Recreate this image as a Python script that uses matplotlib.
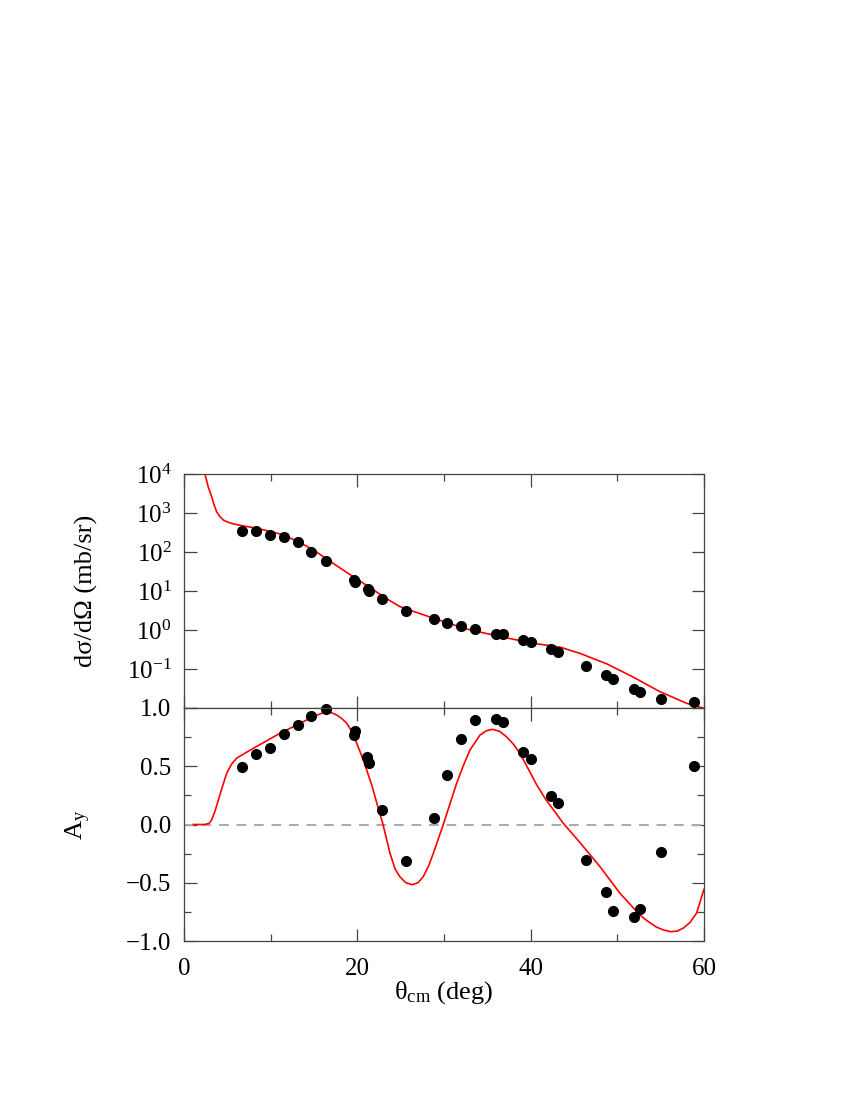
"""Cross section and analysing power vs c.m. angle, data vs calculation."""
import matplotlib
matplotlib.use("Agg")
import matplotlib.pyplot as plt
from matplotlib.ticker import MultipleLocator, NullLocator

plt.rcParams.update({
    "font.family": "Liberation Serif",
    "mathtext.fontset": "custom",
    "mathtext.rm": "Liberation Serif",
    "mathtext.it": "Liberation Serif:italic",
    "font.size": 18,
})

# measured cross section (deg, mb/sr)
theta_xs = [6.7, 8.3, 9.9, 11.5, 13.15, 14.7, 16.35, 19.6, 19.7, 21.2, 21.3, 22.9,
            25.6, 28.8, 30.4, 32.0, 33.6, 36.0, 36.8, 39.15, 40.0, 42.35, 43.2,
            46.35, 48.7, 49.5, 51.9, 52.6, 55.0, 58.9]
xs = [346, 355, 270, 243, 178, 102, 59, 18.6, 17.0, 11.2, 10.0, 6.2,
      3.07, 1.88, 1.48, 1.29, 1.08, 0.805, 0.776, 0.555, 0.492, 0.326, 0.278,
      0.119, 0.070, 0.0565, 0.030, 0.025, 0.017, 0.014]

# measured analysing power
theta_ay = [6.7, 8.3, 9.9, 11.5, 13.15, 14.7, 16.35, 19.6, 19.77, 21.15, 21.35, 22.9,
            25.6, 28.8, 30.4, 32.0, 33.6, 36.0, 36.8, 39.15, 40.0, 42.35, 43.2,
            46.35, 48.7, 49.5, 51.9, 52.6, 55.0, 58.9]
ay = [0.49, 0.605, 0.654, 0.774, 0.854, 0.929, 0.99, 0.77, 0.80, 0.577, 0.528, 0.125,
      -0.313, 0.056, 0.425, 0.734, 0.894, 0.908, 0.883, 0.622, 0.562, 0.242, 0.185,
      -0.307, -0.579, -0.745, -0.797, -0.728, -0.233, 0.505]

# calculation
theta_xs_calc = [2.42, 2.8, 3.19, 3.5, 3.77, 4.1, 4.54, 5.0, 5.69, 7.0, 8.38, 10.0,
                 11.46, 12.8, 14.15, 15.3, 16.46, 18.77, 21.1, 23.4, 24.9, 26.1,
                 28.8, 32.6, 36.5, 40.3, 43.4, 45.7, 48.8, 51.85, 54.9, 58.0, 60.0]
xs_calc = [1.0e4, 4.6e3, 2.63e3, 1.55e3, 1.07e3, 8.3e2, 6.6e2, 5.9e2, 5.25e2, 4.6e2,
           4.07e2, 3.35e2, 2.75e2, 2.0e2, 1.41e2, 1.0e2, 66, 30, 13.8, 6.3, 4.0, 3.2,
           2.0, 1.06, 0.676, 0.457, 0.363, 0.251, 0.135, 0.0617, 0.0263, 0.0132, 0.0098]

theta_ay_calc = [1.08, 2.42, 2.9, 3.19, 3.6, 3.96, 4.45, 4.93, 5.5, 6.08, 8.0, 11.08,
                 14.15, 15.2, 16.08, 17.0, 17.62, 18.2, 18.77, 19.35, 19.92, 20.5,
                 21.08, 21.7, 22.3, 22.93, 23.77, 24.35, 24.9, 25.6, 26.35, 27.0, 27.6,
                 28.2, 28.77, 29.92, 30.7, 31.46, 32.2, 33.0, 34.15, 34.9, 35.6,
                 36.4, 37.2, 38.0, 38.77, 39.7, 40.7, 41.7, 43.77, 45.7, 48.0, 50.3,
                 52.6, 53.6, 54.5, 55.3, 56.15, 56.9, 57.6, 58.4, 59.15, 60.0]
ay_calc = [0.0, 0.0, 0.01, 0.04, 0.12, 0.21, 0.33, 0.44, 0.52, 0.57, 0.654, 0.783,
           0.897, 0.935, 0.96, 0.96, 0.94, 0.91, 0.87, 0.80, 0.70, 0.59,
           0.468, 0.33, 0.17, 0.01, -0.247, -0.38, -0.448, -0.50, -0.517, -0.50, -0.448,
           -0.36, -0.247, 0.0, 0.18, 0.354, 0.50, 0.64, 0.768, 0.805, 0.817,
           0.80, 0.754, 0.69, 0.61, 0.48, 0.34, 0.22, 0.01, -0.156, -0.362, -0.59,
           -0.777, -0.835, -0.88, -0.905, -0.92, -0.915, -0.89, -0.84, -0.76, -0.556]

W, H = 850, 1100
fig = plt.figure(figsize=(W / 100, H / 100), dpi=100)
left, right = 184 / W, 704 / W
ax1 = fig.add_axes([left, 1 - 708 / H, right - left, (708 - 474) / H])
ax2 = fig.add_axes([left, 1 - 941 / H, right - left, (941 - 708) / H])

red = "#ff0000"
for ax in (ax1, ax2):
    for s in ax.spines.values():
        s.set_linewidth(0.9)
        s.set_color("#444444")
    ax.tick_params(which="both", direction="in", top=True, right=True,
                   color="#444444", width=0.9, labelsize=18)
    ax.tick_params(which="major", length=9, pad=9)
    ax.tick_params(which="minor", length=5)
    ax.tick_params(axis="x", which="major", pad=12)
    ax.set_xlim(0, 60)
    ax.xaxis.set_major_locator(MultipleLocator(20))
    ax.xaxis.set_minor_locator(MultipleLocator(10))

# top: cross section
ax1.plot(theta_xs_calc, xs_calc, color=red, lw=1.2)
ax1.plot(theta_xs, xs, "o", color="black", ms=7)
ax1.set_yscale("log")
ax1.set_ylim(1e-2, 1e4)
ax1.set_yticks([1e-2, 1e-1, 1e0, 1e1, 1e2, 1e3, 1e4])
ax1.set_yticklabels(["", r"$10^{-1}$", r"$10^{0}$", r"$10^{1}$", r"$10^{2}$",
                     r"$10^{3}$", r"$10^{4}$"])
ax1.yaxis.set_minor_locator(NullLocator())
ax1.tick_params(labelbottom=False)
ax1.set_ylabel("dσ/dΩ (mb/sr)", fontsize=19)
ax1.yaxis.set_label_coords(-0.165, 0.5)

# bottom: analysing power
ax2.axhline(0, color="#aaaaaa", lw=1.4, ls=(0, (5, 4)))
ax2.plot(theta_ay_calc, ay_calc, color=red, lw=1.2)
ax2.plot(theta_ay, ay, "o", color="black", ms=7, clip_on=False)
ax2.set_ylim(-1, 1)
ax2.set_yticks([-1, -0.5, 0, 0.5, 1])
ax2.set_yticklabels(["\u22121.0", "\u22120.5", "0.0", "0.5", "1.0"])
ax2.yaxis.set_minor_locator(MultipleLocator(0.25))
ax2.set_ylabel(r"A$_\mathregular{y}$", fontsize=19, rotation=90)
ax2.yaxis.set_label_coords(-0.175, 0.5)
ax2.set_xlabel(r"θ$_\mathregular{cm}$ (deg)", fontsize=19)
ax2.xaxis.set_label_coords(0.5, -0.165)

fig.savefig("out.png", dpi=100)
